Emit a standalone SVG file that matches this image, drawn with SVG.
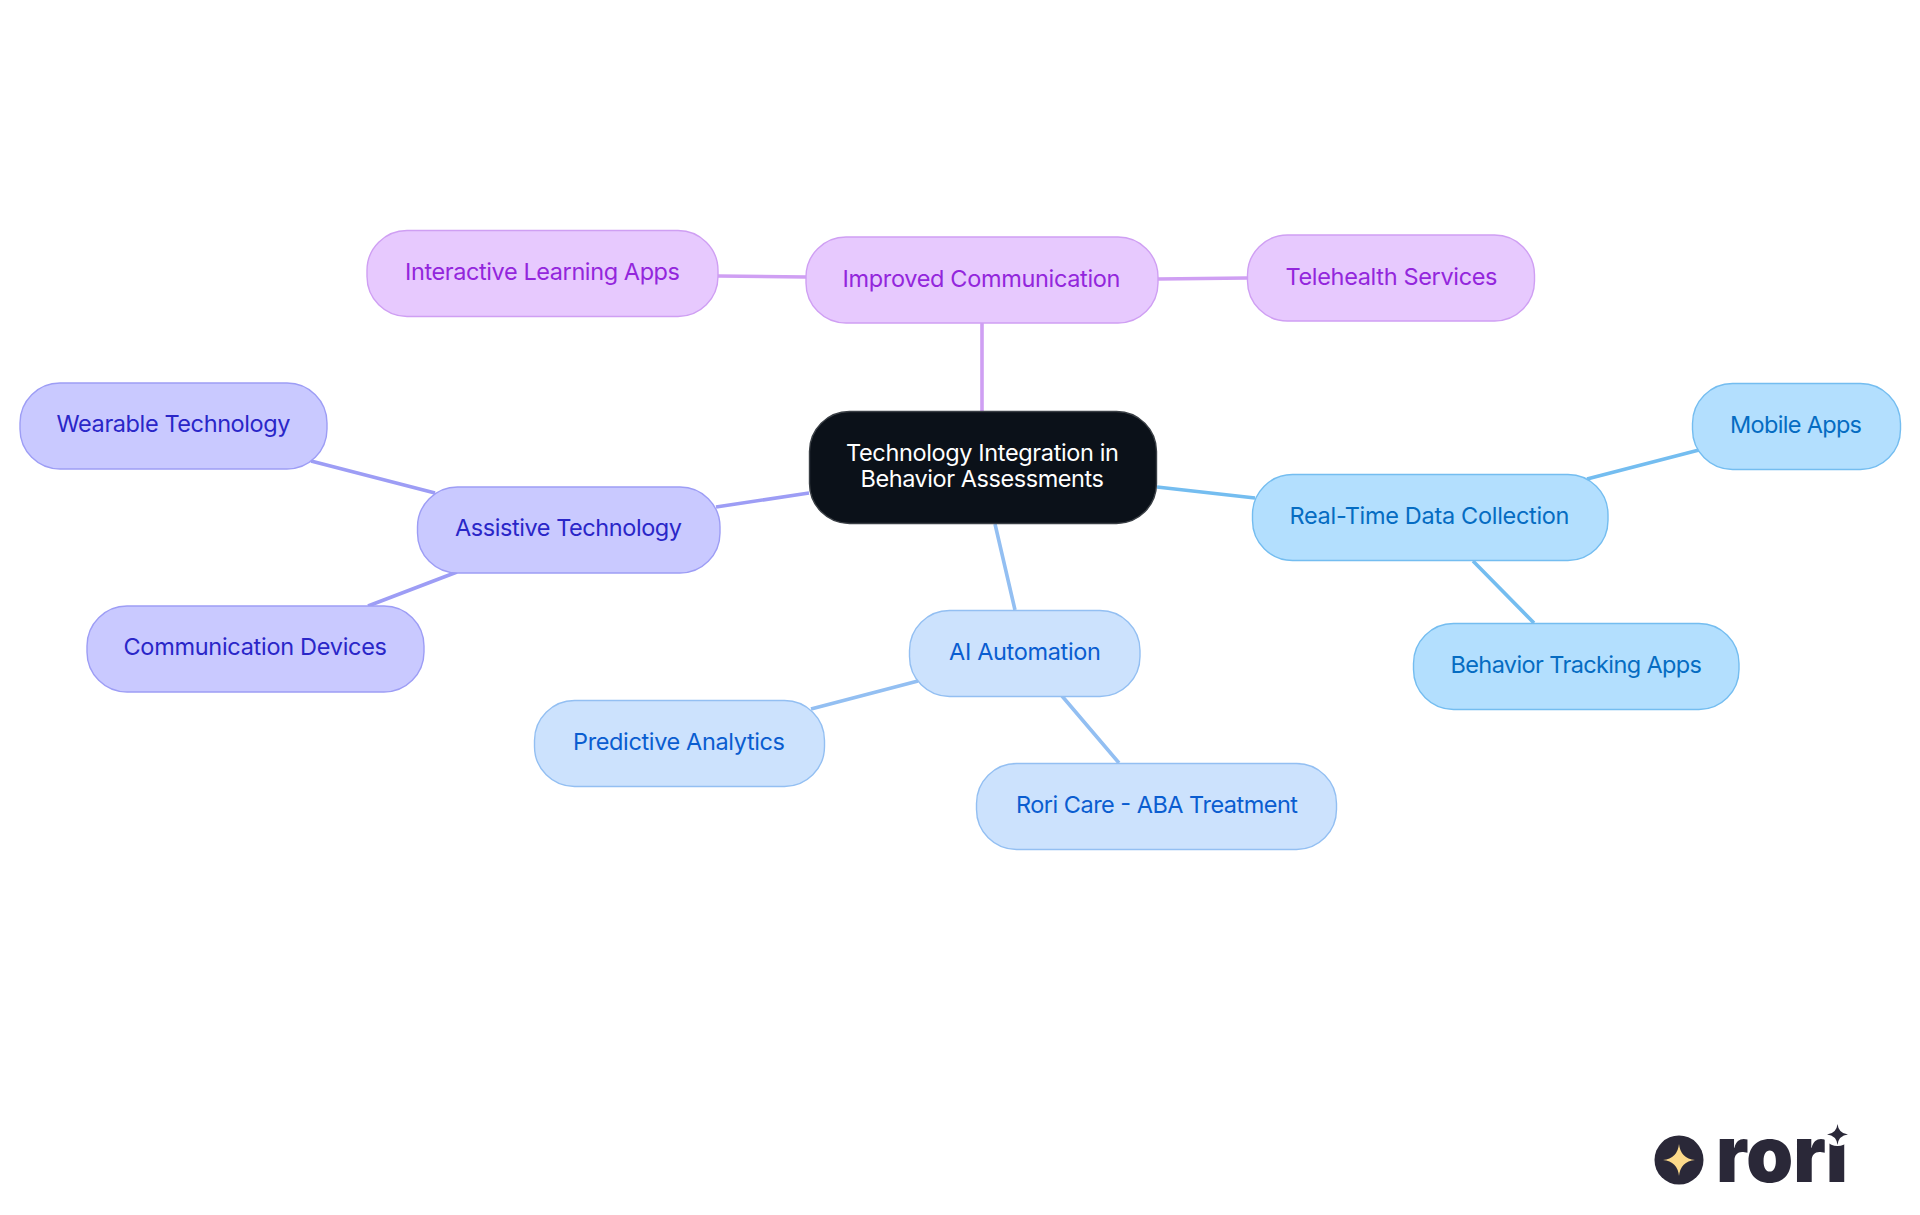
<svg xmlns="http://www.w3.org/2000/svg" width="1920" height="1215" viewBox="0 0 1920 1215">
<style>
text{font-family:"Inter","Noto Sans","Liberation Sans",sans-serif;font-size:23.5px;font-weight:375}
.e{fill:none;stroke-width:3.6}
.n{stroke-width:1.4}
.pu rect{fill:#e7c9fe;stroke:#cf9ff3}.pu text{fill:#9326dc}
.in rect{fill:#c9c9ff;stroke:#9d9df5}.in text{fill:#2a26c8}
.ai rect{fill:#cce2fd;stroke:#93bff2}.ai text{fill:#0a5dd0}
.rt rect{fill:#b3dffe;stroke:#74bdf0}.rt text{fill:#056cc2}
</style>
<rect width="1920" height="1215" fill="#ffffff"/>
<g id="connectors" class="e">
<path class="e" stroke="#cf9ff3" d="M982 411V323M806 277L718 276M1158 279L1247 278"/>
<path class="e" stroke="#9d9df5" d="M809 493L716 507M435 493L311 461M457 572L368 606"/>
<path class="e" stroke="#93bff2" d="M995 524L1015 610M918 681L811 709M1062 696L1119 763"/>
<path class="e" stroke="#74bdf0" d="M1157 487L1255 498M1587 479L1699 450M1473 561L1534 623"/>
</g>
<g id="central"><rect class="n" x="809.500" y="411.500" width="347" height="112" rx="40" fill="#0b1119" stroke="#3a3f45"/>
<text x="846" y="461" textLength="273" fill="#ffffff">Technology Integration in</text>
<text x="860.500" y="487" textLength="243.500" fill="#ffffff">Behavior Assessments</text></g>
<g id="improved-communication" class="pu"><rect class="n" x="806" y="237" width="352" height="86" rx="40"/><text x="842.500" y="286.500" textLength="278">Improved Communication</text></g>
<g id="interactive-learning-apps" class="pu"><rect class="n" x="367" y="230.500" width="351" height="86" rx="40"/><text x="405" y="280" textLength="275">Interactive Learning Apps</text></g>
<g id="telehealth-services" class="pu"><rect class="n" x="1247.500" y="235" width="287" height="86" rx="40"/><text x="1285.500" y="284.500" textLength="212">Telehealth Services</text></g>
<g id="assistive-technology" class="in"><rect class="n" x="417.500" y="487" width="302.500" height="86" rx="40"/><text x="455" y="536" textLength="227">Assistive Technology</text></g>
<g id="wearable-technology" class="in"><rect class="n" x="20" y="383" width="307" height="86" rx="40"/><text x="56.500" y="432" textLength="234">Wearable Technology</text></g>
<g id="communication-devices" class="in"><rect class="n" x="87" y="606" width="337" height="86" rx="40"/><text x="123.500" y="655" textLength="263.500">Communication Devices</text></g>
<g id="ai-automation" class="ai"><rect class="n" x="909.500" y="610.500" width="230.500" height="86" rx="40"/><text x="949" y="660" textLength="152">AI Automation</text></g>
<g id="predictive-analytics" class="ai"><rect class="n" x="534.500" y="700.500" width="290" height="86" rx="40"/><text x="573" y="750" textLength="212">Predictive Analytics</text></g>
<g id="rori-care" class="ai"><rect class="n" x="976.500" y="763.500" width="360" height="86" rx="40"/><text x="1016" y="813" textLength="282">Rori Care - ABA Treatment</text></g>
<g id="real-time-data-collection" class="rt"><rect class="n" x="1252.500" y="474.500" width="355.500" height="86" rx="40"/><text x="1289.500" y="524" textLength="280">Real-Time Data Collection</text></g>
<g id="mobile-apps" class="rt"><rect class="n" x="1692.500" y="383.500" width="208" height="86" rx="40"/><text x="1730" y="433" textLength="132">Mobile Apps</text></g>
<g id="behavior-tracking-apps" class="rt"><rect class="n" x="1413.500" y="623.500" width="325.500" height="86" rx="40"/><text x="1450.500" y="673" textLength="251.500">Behavior Tracking Apps</text></g>
<g id="logo">
<circle cx="1679" cy="1160" r="24.500" fill="#2a2838"/>
<path d="M1679 1144Q1680.500 1158.500 1695 1160Q1680.500 1161.500 1679 1176Q1677.500 1161.500 1663 1160Q1677.500 1158.500 1679 1144Z" fill="#fbd98a"/>
<text x="1716" y="1182" textLength="132" lengthAdjust="spacingAndGlyphs" style="font-family:'Inter','Noto Sans',sans-serif;font-weight:900;font-size:78px" fill="#2a2838">rori</text>
<circle cx="1837.500" cy="1130" r="16" fill="#ffffff"/>
<path d="M1837.500 1124Q1838.500 1133.500 1848 1134.500Q1838.500 1135.500 1837.500 1145Q1836.500 1135.500 1827 1134.500Q1836.500 1133.500 1837.500 1124Z" fill="#2a2838"/>
</g>
</svg>
